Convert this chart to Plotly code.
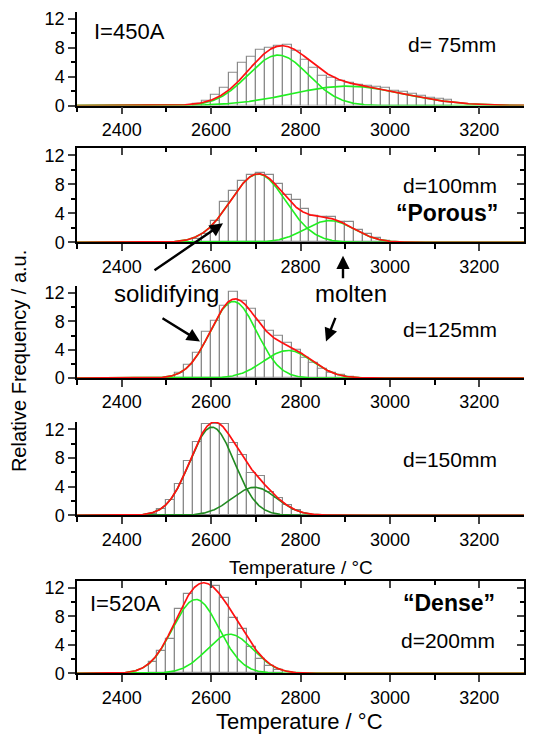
import numpy as np
import plotly.graph_objects as go

W, H = 538, 742

# ---------------- data ----------------
bin_width = 20
# histogram bins: first left edge and heights (relative frequency)
p1_start = 2560
p1_heights = [0.2, 0.7, 1.5, 2.5, 4.5, 5.9, 6.8, 7.8, 8.0, 8.3, 8.4, 7.6, 6.4, 5.3, 4.1,
              3.8, 3.5, 3.1, 2.9, 2.7, 2.6, 2.4, 2.1, 1.9, 1.6, 1.3, 1.1, 0.95, 0.8]
p2_start = 2560
p2_heights = [0.5, 1.2, 3.0, 5.5, 7.1, 8.5, 9.3, 9.5, 9.3, 8.0, 6.5, 5.9, 4.6, 3.6, 3.5,
              3.5, 2.8, 2.8, 1.7, 1.1, 0.6, 0.2]
p3_start = 2500
p3_heights = [0.1, 0.7, 1.9, 3.6, 6.5, 8.0, 10.2, 12.2, 10.9, 9.8, 8.0, 6.6, 5.9, 5.0, 4.0,
              2.9, 2.1, 1.3, 0.8, 0.4, 0.2]
p4_start = 2460
p4_heights = [0.2, 0.8, 2.1, 4.3, 7.6, 10.2, 12.7, 12.7, 12.7, 10.1, 8.4, 5.9, 5.4, 3.3,
              2.4, 1.4, 0.7]
p5_start = 2460
p5_heights = [1.6, 3.2, 4.9, 9.0, 11.1, 13.0, 13.0, 12.3, 10.6, 7.8, 6.2, 3.7, 2.0, 1.0, 0.5]

# Gaussian fit components: (centre °C, peak height, sigma °C)
p1_peaks = [(2750, 7.0, 68), (2905, 2.7, 125)]
p2_peaks = [(2705, 9.4, 62), (2865, 3.0, 55)]
p3_peaks = [(2650, 10.8, 52), (2772, 3.9, 55)]
p4_peaks = [(2602, 12.3, 50), (2697, 3.9, 50)]
p5_peaks = [(2566, 10.4, 52), (2642, 5.5, 52)]

starts = [p1_start, p2_start, p3_start, p4_start, p5_start]
heights = [p1_heights, p2_heights, p3_heights, p4_heights, p5_heights]
peaks = [p1_peaks, p2_peaks, p3_peaks, p4_peaks, p5_peaks]
comp_colors = ["#22ee22", "#22ee22", "#22ee22", "#228b22", "#22ee22"]

x_ticks = [2400, 2600, 2800, 3000, 3200]
y_ticks = [0, 4, 8, 12]
x_range = [2300, 3300]
y_range = [0, 13]

# ---------------- layout geometry (pixels) ----------------
x_left, x_right = 77, 524
panels_px = [(10, 105.3), (148.4, 244.3), (288.5, 382.3), (427, 521.7), (588.5, 682.3)]
boxed = [False, True, False, False, True]

def px(x):
    return x / W

def py(y):
    return 1 - y / H

FONT = "Liberation Sans, Arial, sans-serif"
fig = go.Figure()

xt = np.linspace(x_range[0], x_range[1], 1001)

for i in range(5):
    n = i + 1
    xa = "x" if n == 1 else f"x{n}"
    ya = "y" if n == 1 else f"y{n}"
    centers = [starts[i] + bin_width * (k + 0.5) for k in range(len(heights[i]))]
    fig.add_trace(go.Bar(x=centers, y=heights[i], width=bin_width, xaxis=xa, yaxis=ya,
                         marker=dict(color="white", line=dict(color="#8a8a8a", width=1.2)),
                         showlegend=False, hoverinfo="skip"))
    total = np.zeros_like(xt)
    for (c, a, s) in peaks[i]:
        g = a * np.exp(-(xt - c) ** 2 / (2 * s ** 2))
        total += g
        fig.add_trace(go.Scatter(x=xt, y=g, mode="lines", xaxis=xa, yaxis=ya,
                                 line=dict(color=comp_colors[i], width=1.6),
                                 showlegend=False, hoverinfo="skip"))
    fig.add_trace(go.Scatter(x=xt, y=total, mode="lines", xaxis=xa, yaxis=ya,
                             line=dict(color="#ff1010", width=1.7),
                             showlegend=False, hoverinfo="skip"))

layout = dict(width=W, height=H, margin=dict(l=0, r=0, t=0, b=0),
              paper_bgcolor="white", plot_bgcolor="white", bargap=0,
              font=dict(family=FONT, color="black"))

for i in range(5):
    n = i + 1
    top, bot = panels_px[i]
    xkey = "xaxis" if n == 1 else f"xaxis{n}"
    ykey = "yaxis" if n == 1 else f"yaxis{n}"
    ya = "y" if n == 1 else f"y{n}"
    xa = "x" if n == 1 else f"x{n}"
    layout[xkey] = dict(domain=[px(x_left), px(x_right)], anchor=ya, range=x_range,
                        tickvals=x_ticks, ticks="outside", ticklen=7, tickwidth=1.5,
                        showline=True, linecolor="black", linewidth=1.5,
                        showgrid=False, zeroline=False,
                        tickfont=dict(size=18, family=FONT),
                        minor=dict(tickvals=[2300, 2500, 2700, 2900, 3100], ticks="outside",
                                   ticklen=5, tickwidth=1.5, tickcolor="black"))
    layout[ykey] = dict(domain=[py(bot), py(top)], anchor=xa, range=y_range,
                        tickvals=y_ticks, ticks="outside", ticklen=7, tickwidth=1.5,
                        showline=True, linecolor="black", linewidth=1.5,
                        showgrid=False, zeroline=False,
                        tickfont=dict(size=18, family=FONT),
                        minor=dict(tickvals=[2, 6, 10], ticks="outside",
                                   ticklen=4, tickwidth=1.5, tickcolor="black"))

# top / right frame with inward ticks for the boxed panels
extra = 6
for i in range(5):
    if not boxed[i]:
        continue
    n = i + 1
    top, bot = panels_px[i]
    ya = "y" if n == 1 else f"y{n}"
    xa = "x" if n == 1 else f"x{n}"
    xk, yk = f"xaxis{extra}", f"yaxis{extra}"
    layout[xk] = dict(domain=[px(x_left), px(x_right)], overlaying=xa, anchor=f"y{extra}",
                      side="top", range=x_range, tickvals=x_ticks, ticks="inside",
                      ticklen=7, tickwidth=1.5, showticklabels=False, showline=True,
                      linecolor="black", linewidth=1.5, showgrid=False, zeroline=False,
                      minor=dict(tickvals=[2500, 2700, 2900, 3100], ticks="inside",
                                 ticklen=4, tickwidth=1.5, tickcolor="black"))
    layout[yk] = dict(domain=[py(bot), py(top)], overlaying=ya, anchor=f"x{extra}",
                      side="right", range=y_range, tickvals=y_ticks, ticks="inside",
                      ticklen=7, tickwidth=1.5, showticklabels=False, showline=True,
                      linecolor="black", linewidth=1.5, showgrid=False, zeroline=False,
                      minor=dict(tickvals=[2, 6, 10], ticks="inside",
                                 ticklen=4, tickwidth=1.5, tickcolor="black"))
    fig.add_trace(go.Scatter(x=[None], y=[None], xaxis=f"x{extra}", yaxis=f"y{extra}",
                             showlegend=False, hoverinfo="skip"))
    extra += 1

fig.update_layout(**layout)

ann = []

def text(x, y, s, size, xanchor="center", bold=False, angle=0):
    if bold:
        s = f"<b>{s}</b>"
    ann.append(dict(x=px(x), y=py(y), xref="paper", yref="paper", text=s, showarrow=False,
                    xanchor=xanchor, yanchor="middle", textangle=angle,
                    font=dict(size=size, family=FONT, color="black")))

def arrow(hx, hy, tx, ty):
    ann.append(dict(x=px(hx), y=py(hy), xref="paper", yref="paper", text="",
                    showarrow=True, ax=tx - hx, ay=ty - hy, axref="pixel", ayref="pixel",
                    arrowhead=2, arrowsize=1.1, arrowwidth=2.4, arrowcolor="black"))

text(92, 30, "I=450A", 22, xanchor="left")
text(498, 43, "d= 75mm", 21, xanchor="right")
text(499, 187, "d=100mm", 21, xanchor="right")
text(500, 214, "“Porous”", 23, xanchor="right", bold=True)
text(166, 296, "solidifying", 24)
text(351, 296, "molten", 24)
text(499, 333, "d=125mm", 21, xanchor="right")
text(499, 465, "d=150mm", 21, xanchor="right")
text(301, 575, "Temperature / °C", 19)
text(88, 611, "I=520A", 22, xanchor="left")
text(497, 611, "“Dense”", 23, xanchor="right", bold=True)
text(497, 649, "d=200mm", 21, xanchor="right")
text(299, 731, "Temperature / °C", 22)
text(19, 365, "Relative Frequency / a.u.", 20, angle=-90)

arrow(223, 225, 153, 273)
arrow(343, 258, 343, 282)
arrow(200, 345, 161, 321)
arrow(326, 345, 336, 320)

fig.update_layout(annotations=ann)
fig.write_html("out.html")
